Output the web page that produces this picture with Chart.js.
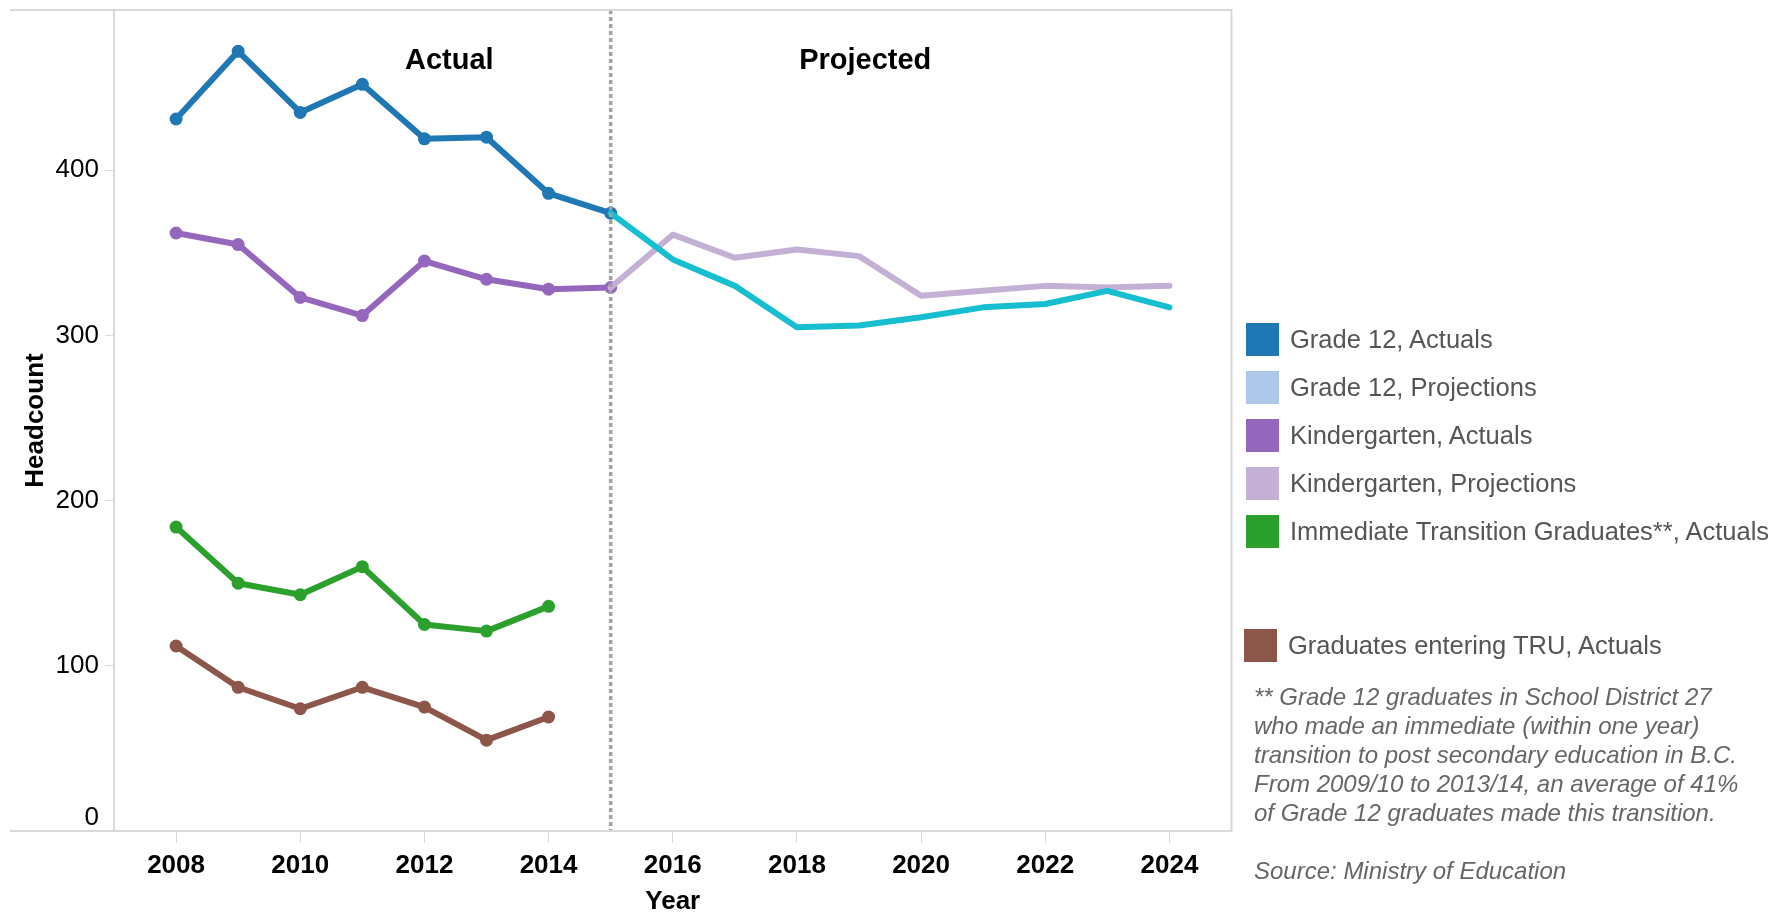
<!DOCTYPE html>
<html>
<head>
<meta charset="utf-8">
<script src="https://cdn.jsdelivr.net/npm/chart.js@4/dist/chart.umd.min.js"></script>
<style>
    body { margin: 0; background: #fff; font-family: "Liberation Sans", Arial, sans-serif; }
    #wrap { position: relative; width: 1783px; height: 913px; }
    #legend { position: absolute; left: 1246px; top: 315px; }
    .item { display: flex; align-items: center; height: 48px; color: #555; font-size: 25.5px; white-space: nowrap; }
    .swatch { width: 33px; height: 33px; margin-right: 11px; flex: none; }
    .item.gap { margin-top: 66px; margin-left: -2px; }
    #note { position: absolute; left: 1254px; top: 682px; color: #666; font-size: 24px; font-style: italic; line-height: 29px; }
    #source { position: absolute; left: 1254px; top: 857px; color: #666; font-size: 24px; font-style: italic; }
</style>
</head>
<body>
<div id="wrap">
    <canvas id="line-chart"></canvas>
    <div id="legend"></div>
    <div id="note">** Grade 12 graduates in School District 27<br>who made an immediate (within one year)<br>transition to post secondary education in B.C.<br>From 2009/10 to 2013/14, an average of 41%<br>of Grade 12 graduates made this transition.</div>
    <div id="source">Source: Ministry of Education</div>
</div>
<script>
// data
const actualYears = [2008, 2009, 2010, 2011, 2012, 2013, 2014, 2015];
const projYears = [2015, 2016, 2017, 2018, 2019, 2020, 2021, 2022, 2023, 2024];
const gradYears = [2008, 2009, 2010, 2011, 2012, 2013, 2014];

const grade12Actual = [431, 472, 435, 452, 419, 420, 386, 374];
const grade12Proj = [374, 346, 330, 305, 306, 311, 317, 319, 327, 317];
const kinderActual = [362, 355, 323, 312, 345, 334, 328, 329];
const kinderProj = [329, 361, 347, 352, 348, 324, 327, 330, 329, 330];
const transitionGrads = [184, 150, 143, 160, 125, 121, 136];
const truGrads = [112, 87, 74, 87, 75, 55, 69];

const xTicks = [2008, 2010, 2012, 2014, 2016, 2018, 2020, 2022, 2024];
const yTicks = [0, 100, 200, 300, 400];

const legendLabels = [
    'Grade 12, Actuals',
    'Grade 12, Projections',
    'Kindergarten, Actuals',
    'Kindergarten, Projections',
    'Immediate Transition Graduates**, Actuals',
    'Graduates entering TRU, Actuals',
];
const legendColors = ['#1f77b4', '#aec7e8', '#9467bd', '#c5b0d5', '#2ca02c', '#8c564b'];

const FONT = '"Liberation Sans", Arial, sans-serif';

const toPoints = (xs, ys) => xs.map((x, i) => ({ x: x, y: ys[i] }));

function makeSet(xs, ys, color, withPoints, order) {
    return {
        data: toPoints(xs, ys),
        borderColor: color,
        backgroundColor: color,
        borderWidth: 6,
        borderCapStyle: 'round',
        borderJoinStyle: 'round',
        pointRadius: withPoints ? 6.5 : 0,
        pointBorderWidth: 0,
        tension: 0,
        order: order,
    };
}

// legend
const legendEl = document.querySelector('#legend');
legendLabels.forEach((label, i) => {
    const item = document.createElement('div');
    item.className = 'item' + (i === 5 ? ' gap' : '');
    const sw = document.createElement('span');
    sw.className = 'swatch';
    sw.style.background = legendColors[i];
    const txt = document.createElement('span');
    txt.textContent = label;
    item.append(sw, txt);
    legendEl.append(item);
});

const frame = {
    id: 'frame',
    afterDraw(chart) {
        const { ctx, chartArea: a } = chart;
        ctx.save();
        ctx.strokeStyle = '#d9d9d9';
        ctx.lineWidth = 2;
        ctx.beginPath();
        ctx.moveTo(10, a.top);
        ctx.lineTo(a.right, a.top);
        ctx.lineTo(a.right, a.bottom);
        ctx.lineTo(10, a.bottom);
        ctx.stroke();

        // bottom "0" label sits above the axis line, like the original
        ctx.fillStyle = '#000';
        ctx.font = '26px ' + FONT;
        ctx.textAlign = 'right';
        ctx.textBaseline = 'bottom';
        ctx.fillText('0', a.left - 15, a.bottom);
        ctx.restore();
    }
};

const divider = {
    id: 'divider',
    afterDatasetsDraw(chart) {
        const { ctx, chartArea: a, scales } = chart;
        const x = scales.x.getPixelForValue(2015);
        ctx.save();
        ctx.strokeStyle = '#a0a0a0';
        ctx.lineWidth = 3.5;
        ctx.setLineDash([4, 3]);
        ctx.beginPath();
        ctx.moveTo(x, a.top);
        ctx.lineTo(x, a.bottom);
        ctx.stroke();

        ctx.setLineDash([]);
        ctx.fillStyle = '#000';
        ctx.font = 'bold 29px ' + FONT;
        ctx.textAlign = 'center';
        ctx.textBaseline = 'middle';
        const y = scales.y.getPixelForValue(466);
        ctx.fillText('Actual', scales.x.getPixelForValue(2012.4), y);
        ctx.fillText('Projected', scales.x.getPixelForValue(2019.1), y);
        ctx.restore();
    }
};

new Chart(document.getElementById('line-chart'), {
    type: 'line',
    data: {
        datasets: [
            makeSet(projYears, grade12Proj, '#17becf', false, 1),
            makeSet(projYears, kinderProj, '#c5b0d5', false, 2),
            makeSet(actualYears, grade12Actual, '#1f77b4', true, 3),
            makeSet(actualYears, kinderActual, '#9467bd', true, 4),
            makeSet(gradYears, transitionGrads, '#2ca02c', true, 5),
            makeSet(gradYears, truGrads, '#8c564b', true, 6),
        ],
    },
    options: {
        responsive: true,
        maintainAspectRatio: false,
        animation: false,
        layout: {
            padding: { left: 0, top: 10, right: 551.5, bottom: 0 }
        },
        plugins: {
            legend: { display: false },
            tooltip: { enabled: false },
        },
        scales: {
            x: {
                type: 'linear',
                min: 2007,
                max: 2025,
                afterBuildTicks: (scale) => { scale.ticks = xTicks.map(v => ({ value: v })); },
                afterFit: (scale) => {
                    scale.height = 82;
                    scale.paddingLeft = 0;
                    scale.paddingRight = 0;
                },
                grid: { drawOnChartArea: false, drawTicks: true, tickLength: 12, color: '#d9d9d9', lineWidth: 1 },
                border: { display: true, color: '#d9d9d9', width: 2 },
                ticks: {
                    padding: 7,
                    color: '#000',
                    font: { family: FONT, size: 26, weight: 'bold' },
                    callback: (v) => String(v),
                },
                title: {
                    display: true,
                    text: 'Year',
                    color: '#000',
                    font: { family: FONT, size: 26, weight: 'bold', lineHeight: 0.85 },
                    padding: { top: 0, bottom: 0 },
                },
            },
            y: {
                min: 0,
                max: 497,
                afterBuildTicks: (scale) => { scale.ticks = yTicks.map(v => ({ value: v })); },
                afterFit: (scale) => {
                    scale.width = 114;
                    scale.paddingTop = 0;
                    scale.paddingBottom = 0;
                },
                grid: { drawOnChartArea: false, drawTicks: true, tickLength: 9, color: '#d9d9d9', lineWidth: 1 },
                border: { display: true, color: '#d9d9d9', width: 2 },
                ticks: {
                    padding: 6,
                    color: '#000',
                    font: { family: FONT, size: 26 },
                    callback: (v) => (v === 0 ? '' : String(v)),
                },
                title: {
                    display: true,
                    text: 'Headcount',
                    color: '#000',
                    font: { family: FONT, size: 26, weight: 'bold', lineHeight: 1 },
                    padding: { top: 23, bottom: 0 },
                },
            },
        },
    },
    plugins: [frame, divider],
});
</script>
</body>
</html>
